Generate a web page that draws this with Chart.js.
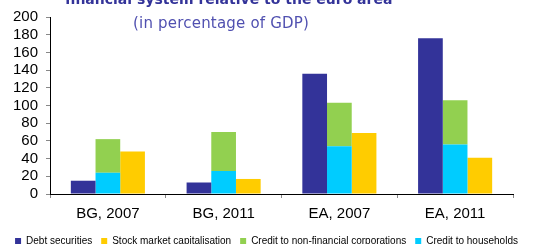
<!DOCTYPE html>
<html>
<head>
<meta charset="utf-8">
<script src="https://cdn.jsdelivr.net/npm/chart.js@4.4.1/dist/chart.umd.min.js"></script>
<style>
  html, body { margin: 0; padding: 0; background: #fff; overflow: hidden; }
  body { width: 533px; height: 244px; position: relative; }
  #wrap { position: absolute; left: 0; top: 0; width: 533px; height: 256px; }
  .title { position: absolute; left: 65px; top: -9px; font: bold 14px "DejaVu Sans", sans-serif; color: #333399; white-space: nowrap; }
  .sub { position: absolute; left: 133px; top: 14px; font: 15px "DejaVu Sans", sans-serif; letter-spacing: 0.2px; color: #5050b0; white-space: nowrap; }
</style>
</head>
<body>
<div id="wrap"><canvas id="grafico"></canvas></div>
<div class="title">financial system relative to the euro area</div>
<div class="sub">(in percentage of GDP)</div>
<script>
// Categorias e séries (em % do PIB)
const categorias = ['BG, 2007', 'BG, 2011', 'EA, 2007', 'EA, 2011'];
const debtSecurities = [15, 13, 136, 176];
const stockMarket = [48, 17, 69, 41];
const creditHouseholds = [24, 26, 54, 56];
const creditNfcTotal = [62, 70, 103, 106];
const yTicks = [0, 20, 40, 60, 80, 100, 120, 140, 160, 180, 200];

// parte verde empilhada acima das famílias
const creditNfcTopo = creditNfcTotal.map((v, i) => v - creditHouseholds[i]);

// ordem da legenda como no original
const ordemLegenda = ['Debt securities', 'Stock market capitalisation', 'Credit to non-financial corporations', 'Credit to households'];

const fonteEixo = { family: 'Liberation Sans, Arial', size: 15 };

const ctx = document.getElementById('grafico').getContext('2d');
new Chart(ctx, {
    type: 'bar',
    data: {
        labels: categorias,
        datasets: [
            { label: 'Debt securities', data: debtSecurities, backgroundColor: '#333399', stack: 'a' },
            { label: 'Credit to households', data: creditHouseholds, backgroundColor: '#00CCFF', stack: 'b' },
            { label: 'Credit to non-financial corporations', data: creditNfcTopo, backgroundColor: '#92D050', stack: 'b' },
            { label: 'Stock market capitalisation', data: stockMarket, backgroundColor: '#FFCC00', stack: 'c' }
        ]
    },
    options: {
        responsive: true,
        maintainAspectRatio: false,
        animation: false,
        layout: { padding: { top: 8, right: 0, left: 0, bottom: 0 } },
        datasets: { bar: { categoryPercentage: 0.64, barPercentage: 1.0 } },
        plugins: {
            title: { display: false },
            tooltip: { enabled: false },
            legend: {
                position: 'bottom',
                labels: {
                    boxWidth: 6,
                    boxHeight: 6,
                    padding: 9,
                    color: '#000',
                    font: { family: 'Liberation Sans, Arial', size: 10 },
                    sort: (a, b) => ordemLegenda.indexOf(a.text) - ordemLegenda.indexOf(b.text)
                }
            }
        },
        scales: {
            x: {
                stacked: true,
                afterFit: scale => { scale.height -= 3; },
                grid: { display: true, drawOnChartArea: false, offset: true, tickLength: 4, color: '#888' },
                border: { color: '#000', width: 1 },
                ticks: { color: '#000', font: fonteEixo, padding: 7 }
            },
            y: {
                stacked: true,
                min: 0,
                max: 200,
                afterBuildTicks: scale => { scale.ticks = yTicks.map(v => ({ value: v })); },
                afterFit: scale => { scale.width = 50; },
                grid: { display: true, drawOnChartArea: false, tickLength: 4, color: '#888' },
                border: { color: '#000', width: 1 },
                ticks: { autoSkip: false, color: '#000', font: fonteEixo, padding: 8 }
            },
            // eixo vazio só para reservar a margem direita
            margem: {
                position: 'right',
                min: 0,
                max: 200,
                afterFit: scale => { scale.width = 20; },
                grid: { display: false },
                border: { display: false },
                ticks: { display: false }
            }
        }
    }
});
</script>
</body>
</html>
